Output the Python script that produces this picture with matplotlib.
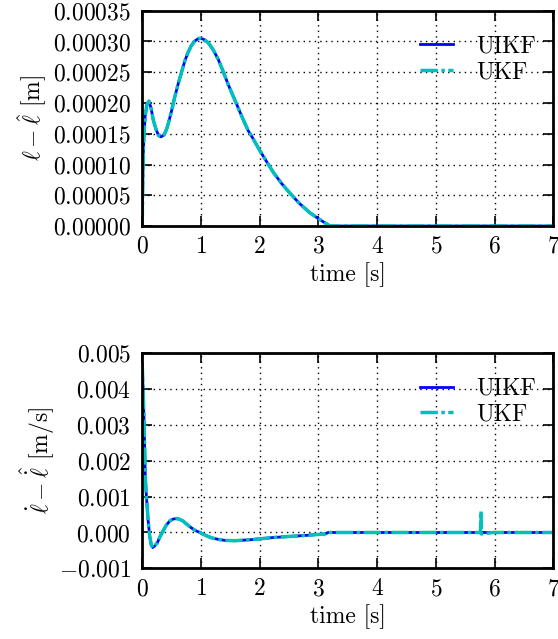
import matplotlib
matplotlib.use("Agg")
import matplotlib.pyplot as plt
from matplotlib.ticker import ScalarFormatter, MultipleLocator

plt.rcParams.update({
    "font.family": "serif", "font.serif": ["cmr10"], "mathtext.fontset": "cm",
    "axes.formatter.use_mathtext": True, "font.size": 17, "axes.unicode_minus": True,
})

# position error, both filters give the same curve
t_pos = [0.0, 0.01, 0.02, 0.03, 0.05, 0.08, 0.115, 0.15, 0.19, 0.24, 0.28, 0.32, 0.37, 0.415,
         0.46, 0.5, 0.55, 0.61, 0.67, 0.725, 0.78, 0.835, 0.9, 0.96, 1.0, 1.06, 1.125, 1.2,
         1.295, 1.38, 1.465, 1.55, 1.635, 1.72, 1.805, 1.895, 1.995, 2.11, 2.235, 2.375,
         2.52, 2.675, 2.85, 3.0, 3.115, 3.2, 7.0]
pos_err = [0.0, 7e-5, 1.2e-4, 1.45e-4, 1.78e-4, 1.97e-4, 2.03e-4, 1.92e-4, 1.72e-4, 1.56e-4,
           1.47e-4, 1.45e-4, 1.48e-4, 1.57e-4, 1.72e-4, 1.87e-4, 2.08e-4, 2.30e-4, 2.50e-4,
           2.68e-4, 2.82e-4, 2.93e-4, 3.01e-4, 3.05e-4, 3.05e-4, 3.03e-4, 2.98e-4, 2.88e-4,
           2.71e-4, 2.51e-4, 2.30e-4, 2.11e-4, 1.92e-4, 1.73e-4, 1.55e-4, 1.41e-4, 1.24e-4,
           1.06e-4, 8.7e-5, 6.9e-5, 5.3e-5, 3.7e-5, 2.2e-5, 1.2e-5, 5e-6, 0.0, 0.0]

# velocity error
t_vel = [0.0, 0.015, 0.03, 0.043, 0.053, 0.065, 0.076, 0.1, 0.128, 0.155, 0.18, 0.21, 0.257,
         0.3, 0.354, 0.41, 0.468, 0.52, 0.58, 0.635, 0.695, 0.76, 0.837, 0.91, 0.985, 1.08,
         1.18, 1.29, 1.405, 1.575, 1.86, 2.235, 2.8, 3.115, 3.17, 7.0]
vel_uikf = [0.0047, 0.0040, 0.00324, 0.00231, 0.00157, 0.0012, 0.00092, 0.00036, -0.0001,
            -0.00035, -0.00042, -0.00038, -0.00029, -0.00013, 0.00004, 0.0002, 0.00032,
            0.00037, 0.00039, 0.00037, 0.00032, 0.00023, 0.00013, 0.00005, 0.0, -0.00008,
            -0.00015, -0.00019, -0.00022, -0.00023, -0.0002, -0.00014, -0.00008, -0.00004,
            0.0, 0.0]
# UKF has the same curve plus a glitch near t = 5.77 s
t_glitch = [5.76, 5.77, 5.775, 5.98]
vel_glitch = [0.0, 0.0006, -0.00004, 0.0]
t_vel_ukf = t_vel[:-1] + t_glitch + t_vel[-1:]
vel_ukf = vel_uikf[:-1] + vel_glitch + vel_uikf[-1:]

fig = plt.figure(figsize=(5.58, 6.39), dpi=100)
ax1 = fig.add_axes([0.2548, 0.6463, 0.7367, 0.3369])
ax2 = fig.add_axes([0.2548, 0.1106, 0.7367, 0.3365])

ukf_dash = (5, 1, 1, 1)
ax1.plot(t_pos, pos_err, "-", color="b", lw=2, label="UIKF")
ax1.plot(t_pos, pos_err, color="c", lw=2.5, dashes=ukf_dash, label="UKF")
ax2.plot(t_vel, vel_uikf, "-", color="b", lw=2, label="UIKF")
ax2.plot(t_vel_ukf, vel_ukf, color="c", lw=2.5, dashes=ukf_dash, label="UKF")

ax1.set_ylim(0, 0.00035)
ax1.yaxis.set_major_locator(MultipleLocator(0.00005))
ax2.set_ylim(-0.001, 0.005)
ax2.yaxis.set_major_locator(MultipleLocator(0.001))
ax1.set_ylabel(r"$\ell - \hat{\ell}$ [m]", labelpad=3)
ax2.set_ylabel(r"$\dot{\ell} - \hat{\dot{\ell}}$ [m/s]", labelpad=1.5)

for ax in (ax1, ax2):
    ax.set_xlim(0, 7)
    ax.xaxis.set_major_locator(MultipleLocator(1))
    ax.set_xlabel("time [s]", labelpad=3)
    fmt = ScalarFormatter(useOffset=False)
    fmt.set_scientific(False)
    ax.yaxis.set_major_formatter(fmt)
    ax.tick_params(direction="in", top=True, right=True, length=7, width=1.2, labelsize=17)
    ax.tick_params(axis="x", pad=7)
    ax.tick_params(axis="y", pad=8)
    ax.grid(True, color="k", linestyle=(0, (1, 3)), lw=1)
    for s in ax.spines.values():
        s.set_linewidth(2)
    ax.legend(loc="upper right", bbox_to_anchor=(1.01, 0.985), frameon=False, fontsize=17,
              handlelength=1.4, handletextpad=1.0, labelspacing=0.15)

fig.savefig("out.png")
